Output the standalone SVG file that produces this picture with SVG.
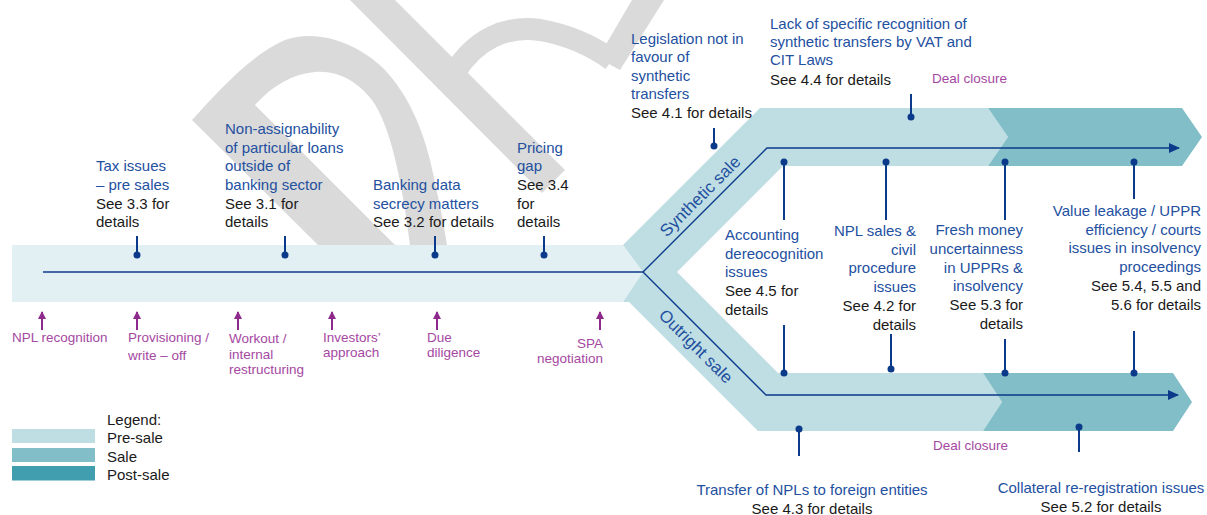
<svg xmlns="http://www.w3.org/2000/svg" width="1207" height="515" viewBox="0 0 1207 515">
<style>
.t{font-family:"Liberation Sans",Arial,sans-serif;font-size:15px}
.b{fill:#23509f}
.k{fill:#1a1a1a}
.p{font-family:"Liberation Sans",Arial,sans-serif;font-size:13.5px;fill:#a548a2}
.r{font-family:"Liberation Sans",Arial,sans-serif;font-size:17px;fill:#23509f}
.pin{stroke:#0b3a8a;stroke-width:2;fill:none}
.dot{fill:#0b3a8a}
.ln{stroke:#0b3a8a;stroke-width:1.4;fill:none}
.pa{stroke:#8e2a8c;stroke-width:2;fill:none}
.wm{fill:#dadada}
</style>
<defs>
<marker id="ah" markerUnits="userSpaceOnUse" markerWidth="11" markerHeight="10" viewBox="0 0 11 10" refX="10" refY="5" orient="auto"><path d="M0,0 L11,5 L0,10 Z" fill="#0b3a8a"/></marker>
<marker id="pah" markerUnits="userSpaceOnUse" markerWidth="8" markerHeight="8" viewBox="0 0 8 8" refX="7" refY="4" orient="auto"><path d="M0,0 L8,4 L0,8 Z" fill="#8e2a8c"/></marker>
</defs>

<g id="watermark">
<path class="wm" fill-rule="evenodd" d="M192,120 C215,95 250,55 285,40 C320,28 360,45 385,70 C405,92 420,120 430,160 C438,195 444,225 447,245 L318,245 Z M255,105 C272,86 292,74 315,72 C338,70 358,82 372,100 C390,125 402,180 410,245 L395,245 Z"/>
<path class="wm" d="M350,0 L395,0 L565,170 L542,193 Z"/>
<path d="M455,72 C475,40 505,25 540,30 C575,36 598,50 612,60" stroke="#dadada" stroke-width="22" fill="none"/>
<path class="wm" d="M632,0 L664,0 L620,70 L598,58 Z"/>
</g>

<g id="bands">
<path d="M12,245 L623,245 L643,272 L623,302 L12,302 Z" fill="#e2f0f3"/>
<path d="M623,245 L760,108 L988,108 L1008,137 L988,166 L783,166 L677,272 L778,373 L983,373 L1002,402 L983,431 L758,431 L629,302 L623,302 L643,272 Z" fill="#bfdee3"/>
<path d="M988,108 L1182,108 L1202,137 L1182,166 L988,166 L1008,137 Z" fill="#82bec8"/>
<path d="M983,373 L1173,373 L1192,402 L1173,431 L983,431 L1002,402 Z" fill="#82bec8"/>
</g>

<g id="connectors">
<path class="ln" d="M43,272 L643,272"/>
<path class="ln" d="M643,272 L767,148 L1179,148" marker-end="url(#ah)"/>
<path class="ln" d="M643,272 L766,395 L1178,395" marker-end="url(#ah)"/>
<path class="pin" d="M137,236 V255 M285,236 V255 M435,236 V255 M544,236 V255"/>
<circle class="dot" cx="137" cy="255" r="3.5"/>
<circle class="dot" cx="285" cy="255" r="3.5"/>
<circle class="dot" cx="435" cy="255" r="3.5"/>
<circle class="dot" cx="544" cy="255" r="3.5"/>
<path class="pin" d="M714,128 V146 M911,94 V117"/>
<circle class="dot" cx="714" cy="146" r="3.5"/>
<circle class="dot" cx="911" cy="117" r="3.5"/>
<path class="pin" d="M784,162 V220 M886,162 V220 M1005,162 V220 M1134,162 V199"/>
<circle class="dot" cx="784" cy="162" r="3.5"/>
<circle class="dot" cx="886" cy="162" r="3.5"/>
<circle class="dot" cx="1005" cy="162" r="3.5"/>
<circle class="dot" cx="1134" cy="162" r="3.5"/>
<path class="pin" d="M784,325 V373 M891,334 V369 M1005,339 V373 M1134,331 V373"/>
<circle class="dot" cx="784" cy="373" r="3.5"/>
<circle class="dot" cx="891" cy="369" r="3.5"/>
<circle class="dot" cx="1005" cy="373" r="3.5"/>
<circle class="dot" cx="1134" cy="373" r="3.5"/>
<path class="pin" d="M799,429 V456 M1079,427 V452"/>
<circle class="dot" cx="799" cy="429" r="3.5"/>
<circle class="dot" cx="1079" cy="427" r="3.5"/>
<path class="pa" d="M42,330 V312" marker-end="url(#pah)"/>
<path class="pa" d="M137,330 V312" marker-end="url(#pah)"/>
<path class="pa" d="M238,330 V312" marker-end="url(#pah)"/>
<path class="pa" d="M332,330 V312" marker-end="url(#pah)"/>
<path class="pa" d="M437,330 V312" marker-end="url(#pah)"/>
<path class="pa" d="M600,330 V312" marker-end="url(#pah)"/>
</g>

<g id="lbl-synthetic"><text class="r" transform="translate(700,196) rotate(-45)" x="0" y="6" text-anchor="middle">Synthetic sale</text></g>
<g id="lbl-outright"><text class="r" transform="translate(696,346) rotate(45)" x="0" y="6" text-anchor="middle">Outright sale</text></g>

<g id="n-tax" class="t"><text x="96" y="171" class="b">Tax issues</text><text x="96" y="190" class="b">– pre sales</text><text x="96" y="209" class="k">See 3.3 for</text><text x="96" y="227" class="k">details</text></g>
<g id="n-nonassign" class="t"><text x="225" y="134" class="b">Non-assignability</text><text x="225" y="153" class="b">of particular loans</text><text x="225" y="171" class="b">outside of</text><text x="225" y="190" class="b">banking sector</text><text x="225" y="209" class="k">See 3.1 for</text><text x="225" y="227" class="k">details</text></g>
<g id="n-banking" class="t"><text x="373" y="190" class="b">Banking data</text><text x="373" y="209" class="b">secrecy matters</text><text x="373" y="227" class="k">See 3.2 for details</text></g>
<g id="n-pricing" class="t"><text x="517" y="153" class="b">Pricing</text><text x="517" y="171" class="b">gap</text><text x="517" y="190" class="k">See 3.4</text><text x="517" y="209" class="k">for</text><text x="517" y="227" class="k">details</text></g>
<g id="n-legislation" class="t"><text x="631" y="44" class="b">Legislation not in</text><text x="631" y="62" class="b">favour of</text><text x="631" y="81" class="b">synthetic</text><text x="631" y="99" class="b">transfers</text><text x="631" y="118" class="k">See 4.1 for details</text></g>
<g id="n-vat" class="t"><text x="770" y="29" class="b">Lack of specific recognition of</text><text x="770" y="47" class="b">synthetic transfers by VAT and</text><text x="770" y="65" class="b">CIT Laws</text><text x="770" y="85" class="k">See 4.4 for details</text></g>
<g id="n-accounting" class="t"><text x="725" y="240" class="b">Accounting</text><text x="725" y="259" class="b">dereocognition</text><text x="725" y="277" class="b">issues</text><text x="725" y="296" class="k">See 4.5 for</text><text x="725" y="315" class="k">details</text></g>
<g id="n-civil" class="t" text-anchor="end"><text x="916" y="236" class="b">NPL sales &amp;</text><text x="916" y="255" class="b">civil</text><text x="916" y="273" class="b">procedure</text><text x="916" y="292" class="b">issues</text><text x="916" y="311" class="k">See 4.2 for</text><text x="916" y="330" class="k">details</text></g>
<g id="n-fresh" class="t" text-anchor="end"><text x="1023" y="235" class="b">Fresh money</text><text x="1023" y="254" class="b">uncertainness</text><text x="1023" y="273" class="b">in UPPRs &amp;</text><text x="1023" y="291" class="b">insolvency</text><text x="1023" y="310" class="k">See 5.3 for</text><text x="1023" y="329" class="k">details</text></g>
<g id="n-value" class="t" text-anchor="end"><text x="1201" y="216" class="b">Value leakage / UPPR</text><text x="1201" y="235" class="b">efficiency / courts</text><text x="1201" y="253" class="b">issues in insolvency</text><text x="1201" y="272" class="b">proceedings</text><text x="1201" y="291" class="k">See 5.4, 5.5 and</text><text x="1201" y="310" class="k">5.6 for details</text></g>
<g id="n-transfer" class="t" text-anchor="middle"><text x="812" y="495" class="b">Transfer of NPLs to foreign entities</text><text x="812" y="514" class="k">See 4.3 for details</text></g>
<g id="n-collateral" class="t" text-anchor="middle"><text x="1101" y="493" class="b">Collateral re-registration issues</text><text x="1101" y="512" class="k">See 5.2 for details</text></g>

<g id="m-npl"><text class="p" x="12" y="342">NPL recognition</text></g>
<g id="m-prov"><text class="p" x="128" y="342">Provisioning /</text><text class="p" x="128" y="359.5">write – off</text></g>
<g id="m-workout"><text class="p" x="229" y="343">Workout /</text><text class="p" x="229" y="358.5">internal</text><text class="p" x="229" y="374">restructuring</text></g>
<g id="m-investors"><text class="p" x="323" y="342">Investors’</text><text class="p" x="323" y="356.5">approach</text></g>
<g id="m-dd"><text class="p" x="427" y="342">Due</text><text class="p" x="427" y="356.5">diligence</text></g>
<g id="m-spa" text-anchor="end"><text class="p" x="603" y="348">SPA</text><text class="p" x="603" y="363">negotiation</text></g>
<g id="m-close1"><text class="p" x="932" y="83">Deal closure</text></g>
<g id="m-close2"><text class="p" x="933" y="450">Deal closure</text></g>

<g id="legend">
<rect x="12" y="429" width="83" height="14" fill="#bfdee3"/>
<rect x="12" y="448" width="83" height="14" fill="#82bec8"/>
<rect x="12" y="466" width="83" height="14.5" fill="#419eae"/>
<text class="t k" x="107" y="425">Legend:</text>
<text class="t k" x="107" y="443">Pre-sale</text>
<text class="t k" x="107" y="462">Sale</text>
<text class="t k" x="107" y="480">Post-sale</text>
</g>
</svg>
